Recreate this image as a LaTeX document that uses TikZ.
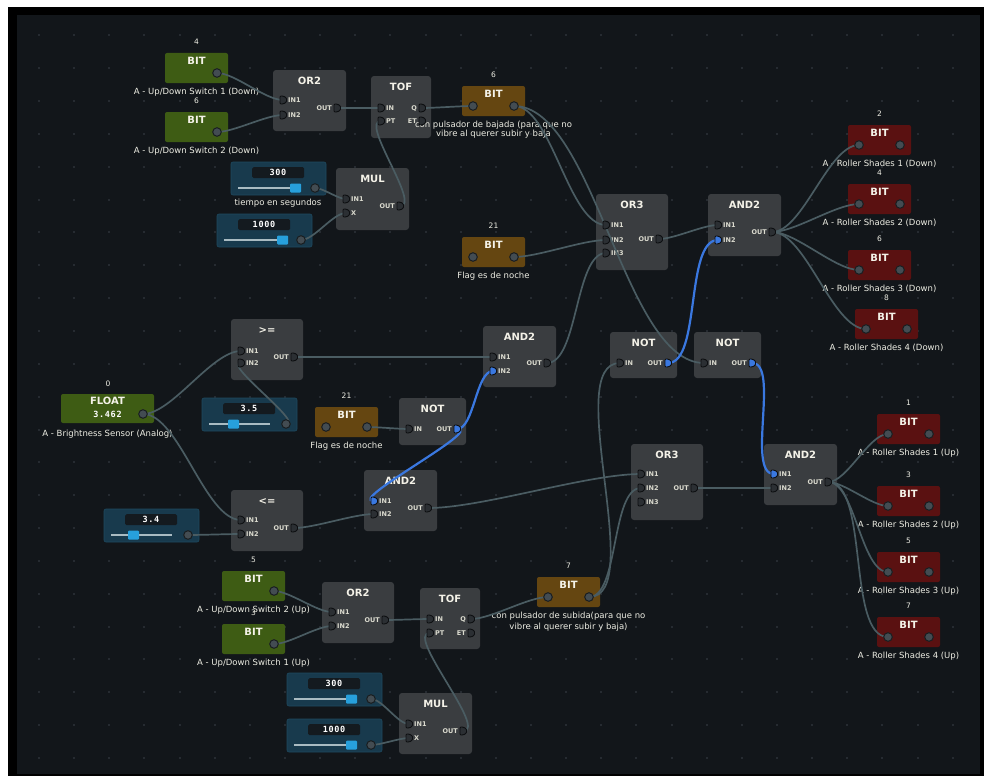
\documentclass[tikz,border=0pt]{standalone}
\usepackage{fontspec}
\setmainfont{DejaVu Sans}
\newfontfamily\valfamily[LetterSpace=8]{DejaVu Sans Mono}

\definecolor{canvas}{HTML}{12161A}
\definecolor{griddot}{HTML}{262B31}
\definecolor{gatefill}{HTML}{3A3D40}
\definecolor{bitgreen}{HTML}{3E5C14}
\definecolor{bitbrown}{HTML}{654611}
\definecolor{bitred}{HTML}{5A1111}
\definecolor{sliderfill}{HTML}{183A4D}
\definecolor{slideredge}{HTML}{1F4A60}
\definecolor{valuebox}{HTML}{141A1F}
\definecolor{trackcol}{HTML}{A9BBC2}
\definecolor{handlecol}{HTML}{27A0DC}
\definecolor{wirecol}{HTML}{4A5C62}
\definecolor{activecol}{HTML}{3A78E0}
\definecolor{slotfill}{HTML}{2B2F33}
\definecolor{slotedge}{HTML}{0D0F11}
\definecolor{dotfill}{HTML}{434C52}
\definecolor{dotedge}{HTML}{1A1E21}
\definecolor{titlecol}{HTML}{F4F2E8}
\definecolor{lblcol}{HTML}{EEEEE4}
\definecolor{slotcol}{HTML}{DCDCD0}

\newcommand\fTitle{\fontsize{10}{12}\bfseries\selectfont}
\newcommand\fSlot{\fontsize{6.5}{7}\bfseries\selectfont}
\newcommand\fLabel{\fontsize{8.5}{9.5}\selectfont}
\newcommand\fNum{\fontsize{7.5}{8}\selectfont}
\newcommand\fVal{\fontsize{8.5}{9}\valfamily\bfseries}

\pgfdeclarelayer{fg}
\pgfsetlayers{main,fg}

\tikzset{
  gatebox/.style={fill=gatefill, rounded corners=3pt, anchor=north west, inner sep=0, outer sep=0},
  bitshape/.style={rounded corners=2pt, anchor=north west, inner sep=0, outer sep=0,
    minimum width=63pt, minimum height=30pt},
  sliderbox/.style={fill=sliderfill, draw=slideredge, line width=0.6pt, rounded corners=2pt,
    anchor=north west, inner sep=0, outer sep=0, minimum width=95pt, minimum height=33pt},
  valbox/.style={fill=valuebox, rounded corners=1.5pt, anchor=north west, inner sep=0,
    minimum width=52pt, minimum height=11pt},
  titletext/.style={text=titlecol, font=\fTitle, inner sep=0, anchor=mid},
  slotlbl/.style={text=slotcol, font=\fSlot, inner sep=0},
  lbl/.style={text=lblcol, font=\fLabel, inner sep=0, anchor=mid},
  numlbl/.style={text=lblcol, font=\fNum, inner sep=0, anchor=mid},
  valtext/.style={text=white, font=\fVal, inner sep=0, anchor=mid},
  trackline/.style={draw=trackcol, line width=1.5pt},
  wire/.style={draw=wirecol, line width=1.7pt, out=0, in=180, looseness=0.64},
  livewire/.style={wire, draw=activecol, line width=2.2pt},
}

% slot marker (the "D" shaped socket)
\newcommand\slotD[3]{%
  \filldraw[fill=#3, draw=slotedge, line width=0.9pt, rounded corners=1pt]
    (#1-3,#2-4) -- (#1,#2-4) -- (#1+3,#2-2.5) -- (#1+3.8,#2) -- (#1+3,#2+2.5)
    -- (#1,#2+4) -- (#1-3,#2+4) -- cycle;}
% round socket of value nodes
\newcommand\portdot[2]{%
  \filldraw[fill=dotfill, draw=dotedge, line width=1pt] (#1,#2) circle[radius=4.3];}

% gate: name, left, top, right, bottom, title
\newcommand\gate[6]{%
  \node[gatebox, minimum width={(#4-#2)*1pt}, minimum height={(#5-#3)*1pt}] (#1) at (#2,#3) {};
  \node[titletext] at ({(#2+#4)/2},#3+12) {#6};}
% input slot: name, box left, y, text, colour
\newcommand\inslot[5]{%
  \coordinate (#1) at (#2+10,#3);
  \node[slotlbl, anchor=mid west] at (#2+15,#3) {#4};
  \begin{pgfonlayer}{fg}\slotD{#2+10}{#3}{#5}\end{pgfonlayer}}
% output slot: name, box right, y, text, colour
\newcommand\outslot[5]{%
  \coordinate (#1) at (#2-9,#3);
  \node[slotlbl, anchor=mid east] at (#2-14,#3) {#4};
  \begin{pgfonlayer}{fg}\slotD{#2-9}{#3}{#5}\end{pgfonlayer}}
% BIT node: name, left, top, colour, number, caption
\newcommand\bitbox[6]{%
  \node[bitshape, fill=#4] (#1) at (#2,#3) {};
  \node[titletext] at (#2+31.5,#3+9) {BIT};
  \node[numlbl] at (#2+31.5,#3-11) {#5};
  \node[lbl] at (#2+31.5,#3+39) {#6};}
\newcommand\bitin[3]{%
  \coordinate (#1) at (#2+11,#3+20);
  \begin{pgfonlayer}{fg}\portdot{#2+11}{#3+20}\end{pgfonlayer}}
\newcommand\bitout[3]{%
  \coordinate (#1) at (#2+52,#3+20);
  \begin{pgfonlayer}{fg}\portdot{#2+52}{#3+20}\end{pgfonlayer}}
% slider: name, left, top, value, handle offset
\newcommand\slider[5]{%
  \node[sliderbox] (#1) at (#2,#3) {};
  \node[valbox] at (#2+21,#3+5) {};
  \node[valtext] at (#2+47,#3+10.5) {#4};
  \draw[trackline] (#2+7,#3+26) -- (#2+68,#3+26);
  \fill[handlecol, rounded corners=1pt] (#2+#5,#3+21.5) rectangle (#2+#5+11,#3+30.5);
  \coordinate (#1-o) at (#2+84,#3+26);
  \begin{pgfonlayer}{fg}\portdot{#2+84}{#3+26}\end{pgfonlayer}}

\begin{document}
\begin{tikzpicture}[x=1pt,y=-1pt]
\useasboundingbox (0,0) rectangle (984,776);
\fill[white] (0,0) rectangle (984,776);
\fill[black] (8,7) rectangle (984,776);
\fill[canvas] (17,15) rectangle (980,774);
\foreach \i in {0,...,26}
  \foreach \j in {0,...,22}
    \fill[griddot] ({38+35.14*\i},{34.3+32.85*\j}) rectangle +(2,2);

% ---------- upper chain (down switches) ----------
\bitbox{bitg4}{165}{53}{bitgreen}{4}{A - Up/Down Switch 1 (Down)}
\bitout{bitg4-o}{165}{53}
\bitbox{bitg6}{165}{112}{bitgreen}{6}{A - Up/Down Switch 2 (Down)}
\bitout{bitg6-o}{165}{112}

\gate{or2a}{273}{70}{346}{131}{OR2}
\inslot{or2a-i1}{273}{100}{IN1}{slotfill}
\inslot{or2a-i2}{273}{115}{IN2}{slotfill}
\outslot{or2a-o}{346}{108}{OUT}{slotfill}

\gate{tofa}{371}{76}{431}{138}{TOF}
\inslot{tofa-in}{371}{108}{IN}{slotfill}
\inslot{tofa-pt}{371}{121}{PT}{slotfill}
\outslot{tofa-q}{431}{108}{Q}{slotfill}
\outslot{tofa-et}{431}{121}{ET}{slotfill}

\slider{s300a}{231}{162}{300}{59}
\node[lbl] at (278,203) {tiempo en segundos};
\slider{s1000a}{217}{214}{1000}{60}

\gate{mula}{336}{168}{409}{230}{MUL}
\inslot{mula-i1}{336}{199}{IN1}{slotfill}
\inslot{mula-x}{336}{213}{X}{slotfill}
\outslot{mula-o}{409}{206}{OUT}{slotfill}

\bitbox{bitb6}{462}{86}{bitbrown}{6}{con pulsador de bajada (para que no}
\node[lbl] at (493.5,134) {vibre al querer subir y baja};
\bitin{bitb6-i}{462}{86}
\bitout{bitb6-o}{462}{86}

\bitbox{bitb21a}{462}{237}{bitbrown}{21}{Flag es de noche}
\bitin{bitb21a-i}{462}{237}
\bitout{bitb21a-o}{462}{237}

\gate{or3a}{596}{194}{668}{270}{OR3}
\inslot{or3a-i1}{596}{225}{IN1}{slotfill}
\inslot{or3a-i2}{596}{240}{IN2}{slotfill}
\inslot{or3a-i3}{596}{253}{IN3}{slotfill}
\outslot{or3a-o}{668}{239}{OUT}{slotfill}

\gate{and2a}{708}{194}{781}{256}{AND2}
\inslot{and2a-i1}{708}{225}{IN1}{slotfill}
\inslot{and2a-i2}{708}{240}{IN2}{activecol}
\outslot{and2a-o}{781}{232}{OUT}{slotfill}

\bitbox{bitr2}{848}{125}{bitred}{2}{A - Roller Shades 1 (Down)}
\bitin{bitr2-i}{848}{125}\bitout{bitr2-o}{848}{125}
\bitbox{bitr4}{848}{184}{bitred}{4}{A - Roller Shades 2 (Down)}
\bitin{bitr4-i}{848}{184}\bitout{bitr4-o}{848}{184}
\bitbox{bitr6}{848}{250}{bitred}{6}{A - Roller Shades 3 (Down)}
\bitin{bitr6-i}{848}{250}\bitout{bitr6-o}{848}{250}
\bitbox{bitr8}{855}{309}{bitred}{8}{A - Roller Shades 4 (Down)}
\bitin{bitr8-i}{855}{309}\bitout{bitr8-o}{855}{309}

% ---------- brightness logic ----------
\node[bitshape, fill=bitgreen, minimum width=93pt, minimum height=29pt] (float) at (61,394) {};
\node[titletext] at (107.5,401.5) {FLOAT};
\node[valtext] at (107.5,415) {3.462};
\node[numlbl] at (108,384) {0};
\node[lbl] at (107.5,434) {A - Brightness Sensor (Analog)};
\coordinate (float-o) at (143,414);
\begin{pgfonlayer}{fg}\portdot{143}{414}\end{pgfonlayer}

\gate{ge}{231}{319}{303}{380}{>=}
\inslot{ge-i1}{231}{351}{IN1}{slotfill}
\inslot{ge-i2}{231}{363}{IN2}{slotfill}
\outslot{ge-o}{303}{357}{OUT}{slotfill}

\slider{s35}{202}{398}{3.5}{26}

\bitbox{bitb21b}{315}{407}{bitbrown}{21}{Flag es de noche}
\bitin{bitb21b-i}{315}{407}
\bitout{bitb21b-o}{315}{407}

\gate{notc}{399}{398}{466}{445}{NOT}
\inslot{notc-in}{399}{429}{IN}{slotfill}
\outslot{notc-o}{466}{429}{OUT}{activecol}

\gate{and2b}{483}{326}{556}{387}{AND2}
\inslot{and2b-i1}{483}{357}{IN1}{slotfill}
\inslot{and2b-i2}{483}{371}{IN2}{activecol}
\outslot{and2b-o}{556}{363}{OUT}{slotfill}

\gate{nota}{610}{332}{677}{378}{NOT}
\inslot{nota-in}{610}{363}{IN}{slotfill}
\outslot{nota-o}{677}{363}{OUT}{activecol}

\gate{notb}{694}{332}{761}{378}{NOT}
\inslot{notb-in}{694}{363}{IN}{slotfill}
\outslot{notb-o}{761}{363}{OUT}{activecol}

\slider{s34}{104}{509}{3.4}{24}

\gate{le}{231}{490}{303}{551}{<=}
\inslot{le-i1}{231}{520}{IN1}{slotfill}
\inslot{le-i2}{231}{534}{IN2}{slotfill}
\outslot{le-o}{303}{528}{OUT}{slotfill}

\gate{and2c}{364}{470}{437}{531}{AND2}
\inslot{and2c-i1}{364}{501}{IN1}{activecol}
\inslot{and2c-i2}{364}{514}{IN2}{slotfill}
\outslot{and2c-o}{437}{508}{OUT}{slotfill}

\gate{or3b}{631}{444}{703}{520}{OR3}
\inslot{or3b-i1}{631}{474}{IN1}{slotfill}
\inslot{or3b-i2}{631}{488}{IN2}{slotfill}
\inslot{or3b-i3}{631}{502}{IN3}{slotfill}
\outslot{or3b-o}{703}{488}{OUT}{slotfill}

\gate{and2d}{764}{444}{837}{505}{AND2}
\inslot{and2d-i1}{764}{474}{IN1}{activecol}
\inslot{and2d-i2}{764}{488}{IN2}{slotfill}
\outslot{and2d-o}{837}{482}{OUT}{slotfill}

\bitbox{bitr1}{877}{414}{bitred}{1}{A - Roller Shades 1 (Up)}
\bitin{bitr1-i}{877}{414}\bitout{bitr1-o}{877}{414}
\bitbox{bitr3}{877}{486}{bitred}{3}{A - Roller Shades 2 (Up)}
\bitin{bitr3-i}{877}{486}\bitout{bitr3-o}{877}{486}
\bitbox{bitr5}{877}{552}{bitred}{5}{A - Roller Shades 3 (Up)}
\bitin{bitr5-i}{877}{552}\bitout{bitr5-o}{877}{552}
\bitbox{bitr7}{877}{617}{bitred}{7}{A - Roller Shades 4 (Up)}
\bitin{bitr7-i}{877}{617}\bitout{bitr7-o}{877}{617}

% ---------- lower chain (up switches) ----------
\bitbox{bitg5}{222}{571}{bitgreen}{5}{A - Up/Down Switch 2 (Up)}
\bitout{bitg5-o}{222}{571}
\bitbox{bitg3}{222}{624}{bitgreen}{3}{A - Up/Down Switch 1 (Up)}
\bitout{bitg3-o}{222}{624}

\gate{or2b}{322}{582}{394}{643}{OR2}
\inslot{or2b-i1}{322}{612}{IN1}{slotfill}
\inslot{or2b-i2}{322}{626}{IN2}{slotfill}
\outslot{or2b-o}{394}{620}{OUT}{slotfill}

\gate{tofb}{420}{588}{480}{649}{TOF}
\inslot{tofb-in}{420}{619}{IN}{slotfill}
\inslot{tofb-pt}{420}{633}{PT}{slotfill}
\outslot{tofb-q}{480}{619}{Q}{slotfill}
\outslot{tofb-et}{480}{633}{ET}{slotfill}

\slider{s300b}{287}{673}{300}{59}
\slider{s1000b}{287}{719}{1000}{59}

\gate{mulb}{399}{693}{472}{754}{MUL}
\inslot{mulb-i1}{399}{724}{IN1}{slotfill}
\inslot{mulb-x}{399}{738}{X}{slotfill}
\outslot{mulb-o}{472}{731}{OUT}{slotfill}

\bitbox{bitb7}{537}{577}{bitbrown}{7}{con pulsador de subida(para que no}
\node[lbl] at (568.5,627) {vibre al querer subir y baja)};
\bitin{bitb7-i}{537}{577}
\bitout{bitb7-o}{537}{577}

% ---------- links ----------
\draw[wire] (bitg4-o) to (or2a-i1);
\draw[wire] (bitg6-o) to (or2a-i2);
\draw[wire] (or2a-o) to (tofa-in);
\draw[wire] (tofa-q) to (bitb6-i);
\draw[wire] (s300a-o) to (mula-i1);
\draw[wire] (s1000a-o) to (mula-x);
\draw[wire] (mula-o) to (tofa-pt);
\draw[wire] (bitb6-o) to (or3a-i1);
\draw[wire] (bitb6-o) to (notb-in);
\draw[wire] (bitb21a-o) to (or3a-i2);
\draw[wire] (and2b-o) to (or3a-i3);
\draw[wire] (or3a-o) to (and2a-i1);
\draw[livewire] (nota-o) to (and2a-i2);
\draw[wire] (and2a-o) to (bitr2-i);
\draw[wire] (and2a-o) to (bitr4-i);
\draw[wire] (and2a-o) to (bitr6-i);
\draw[wire] (and2a-o) to (bitr8-i);

\draw[wire] (float-o) to (ge-i1);
\draw[wire] (float-o) to (le-i1);
\draw[wire] (s35-o) to (ge-i2);
\draw[wire] (s34-o) to (le-i2);
\draw[wire] (ge-o) to (and2b-i1);
\draw[wire] (bitb21b-o) to (notc-in);
\draw[livewire] (notc-o) to (and2b-i2);
\draw[livewire] (notc-o) to (and2c-i1);
\draw[wire] (le-o) to (and2c-i2);
\draw[wire] (and2c-o) to (or3b-i1);
\draw[wire] (bitb7-o) to (nota-in);
\draw[wire] (bitb7-o) to (or3b-i2);
\draw[wire] (or3b-o) to (and2d-i2);
\draw[livewire] (notb-o) to (and2d-i1);
\draw[wire] (and2d-o) to (bitr1-i);
\draw[wire] (and2d-o) to (bitr3-i);
\draw[wire] (and2d-o) to (bitr5-i);
\draw[wire] (and2d-o) to (bitr7-i);

\draw[wire] (bitg5-o) to (or2b-i1);
\draw[wire] (bitg3-o) to (or2b-i2);
\draw[wire] (or2b-o) to (tofb-in);
\draw[wire] (tofb-q) to (bitb7-i);
\draw[wire] (s300b-o) to (mulb-i1);
\draw[wire] (s1000b-o) to (mulb-x);
\draw[wire] (mulb-o) to (tofb-pt);
\end{tikzpicture}
\end{document}
